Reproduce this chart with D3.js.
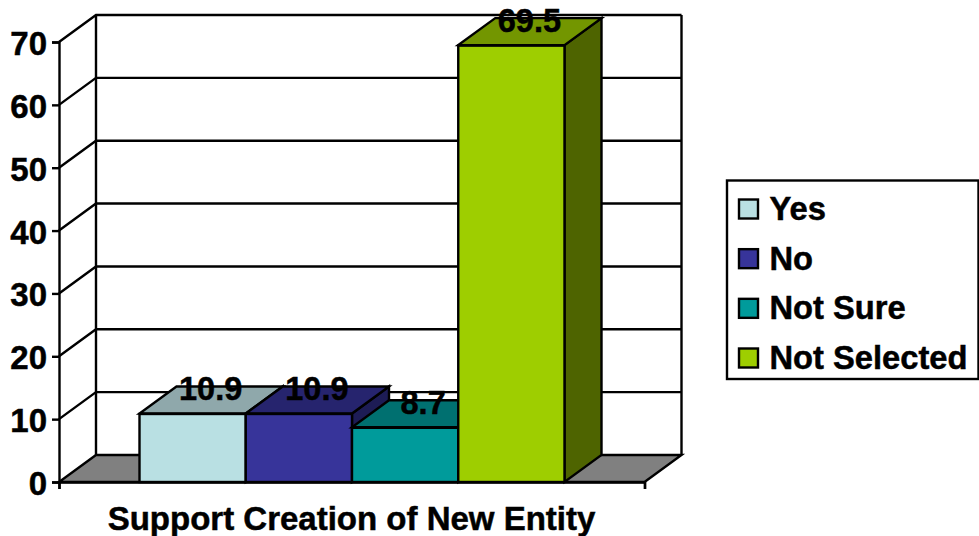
<!DOCTYPE html>
<html>
<head>
<meta charset="utf-8">
<script src="https://cdn.jsdelivr.net/npm/d3@7/dist/d3.min.js"></script>
<style>
html,body{margin:0;padding:0;background:#fff;overflow:hidden}
text{font-family:"Liberation Sans",Arial,sans-serif;font-weight:700;fill:#000;stroke:#000;stroke-width:.5px}
</style>
</head>
<body>
<svg id="c" width="979" height="536"></svg>
<script>
const categories = ["Yes", "No", "Not Sure", "Not Selected"];
const values = [10.9, 10.9, 8.7, 69.5];
const valueLabels = ["10.9", "10.9", "8.7", "69.5"];
const axisTicks = [0, 10, 20, 30, 40, 50, 60, 70];
const frontColors = ["#B9E0E3", "#37349A", "#009B9B", "#9ECE00"];
const topColors = ["#8FA8AB", "#26246E", "#007070", "#739600"];
const sideColors = ["#7A9A9E", "#1D1C55", "#005A5A", "#4E6400"];
const axisTitle = "Support Creation of New Entity";

const svg = d3.select("#c");
const dx = 37, dy = 27;
const X0 = 59, X1 = 644.5;
const y = d3.scaleLinear().domain([0, 70]).range([482, 42]);
const x = d3.scaleBand().domain(categories).range([139.5, 564.5]).padding(0);
const ink = "#000";
const lw = 2.4;
const poly = pts => pts.map(p => p.join(",")).join(" ");

// floor
svg.append("polygon")
  .attr("points", poly([[X0, y(0)], [X1, y(0)], [X1 + dx, y(0) - dy], [X0 + dx, y(0) - dy]]))
  .attr("fill", "#808080").attr("stroke", ink).attr("stroke-width", lw);

// gridlines on left and back walls
const grid = svg.append("g").attr("fill", "none").attr("stroke", ink).attr("stroke-width", lw);
axisTicks.filter(t => t > 0).forEach(t => {
  grid.append("polyline")
    .attr("points", poly([[X0, y(t)], [X0 + dx, y(t) - dy], [X1 + dx, y(t) - dy]]));
});
grid.append("line").attr("x1", X0 + dx).attr("x2", X0 + dx).attr("y1", y(70) - dy).attr("y2", y(0) - dy);
grid.append("line").attr("x1", X1 + dx).attr("x2", X1 + dx).attr("y1", y(70) - dy).attr("y2", y(0) - dy);

// front axes
const yAxis = d3.axisLeft(y).tickValues(axisTicks).tickSize(7).tickPadding(5).tickFormat(d3.format("d"));
const gy = svg.append("g").attr("transform", `translate(${X0},0)`).call(yAxis);
gy.selectAll("path.domain").attr("stroke", ink).attr("stroke-width", lw);
gy.selectAll("line").attr("stroke", ink).attr("stroke-width", lw);
gy.selectAll("text").style("font-size", "33px").attr("dy", "0.38em");

const xAxisScale = d3.scaleLinear().domain([0, 1]).range([X0, X1]);
const gx = svg.append("g").attr("transform", `translate(0,${y(0)})`)
  .call(d3.axisBottom(xAxisScale).tickValues([0, 1]).tickSize(7).tickFormat(""));
gx.selectAll("path,line").attr("stroke", ink).attr("stroke-width", lw);

// bars
const bars = svg.append("g").selectAll("g").data(categories).join("g")
  .attr("stroke", ink).attr("stroke-width", lw).attr("stroke-linejoin", "miter");
bars.append("polygon").attr("fill", (d, i) => sideColors[i]).attr("points", (d, i) => {
  const r = x(d) + x.bandwidth(), t = y(values[i]), b = y(0);
  return poly([[r, t], [r + dx, t - dy], [r + dx, b - dy], [r, b]]);
});
bars.append("polygon").attr("fill", (d, i) => topColors[i]).attr("points", (d, i) => {
  const l = x(d), r = l + x.bandwidth(), t = y(values[i]);
  return poly([[l, t], [r, t], [r + dx, t - dy], [l + dx, t - dy]]);
});
bars.append("rect").attr("fill", (d, i) => frontColors[i])
  .attr("x", d => x(d)).attr("width", x.bandwidth())
  .attr("y", (d, i) => y(values[i]) + 0.5).attr("height", (d, i) => y(0) - y(values[i]) - 0.5);

// value labels
svg.append("g").selectAll("text").data(categories).join("text")
  .attr("text-anchor", "middle")
  .style("font-size", "32.5px")
  .attr("x", d => x(d) + x.bandwidth() / 2 + 18)
  .attr("y", (d, i) => y(values[i]) - 13)
  .text((d, i) => valueLabels[i]);

// axis title
svg.append("text").attr("text-anchor", "middle").style("font-size", "33px")
  .attr("x", 351.5).attr("y", 530).text(axisTitle);

// legend
const legendY = d3.scalePoint().domain(categories).range([209, 358]);
svg.append("rect").attr("x", 727).attr("y", 180.5).attr("width", 251.5).attr("height", 198.5)
  .attr("fill", "#fff").attr("stroke", ink).attr("stroke-width", lw);
const leg = svg.append("g").selectAll("g").data(categories).join("g")
  .attr("transform", d => `translate(0,${legendY(d)})`);
leg.append("rect").attr("x", 739).attr("y", -9.5).attr("width", 19).attr("height", 19)
  .attr("fill", (d, i) => frontColors[i]).attr("stroke", ink).attr("stroke-width", lw);
leg.append("text").attr("x", 769.5).attr("y", 11).style("font-size", "32.7px").text(d => d);
</script>
</body>
</html>
